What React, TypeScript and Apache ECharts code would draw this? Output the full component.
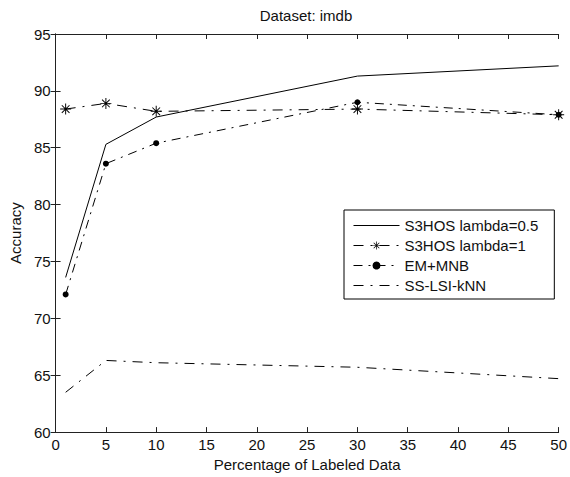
import React, { useEffect, useRef } from "react";
import * as echarts from "echarts";

const xValues = [1, 5, 10, 30, 50];
const s3hosLambda05 = [73.6, 85.3, 87.7, 91.3, 92.2];
const s3hosLambda1 = [88.4, 88.9, 88.2, 88.4, 87.9];
const emMnb = [72.1, 83.6, 85.4, 89.0, 87.9];
const ssLsiKnn = [63.5, 66.3, 66.1, 65.7, 64.7];
const seriesNames = ["S3HOS lambda=0.5", "S3HOS lambda=1", "EM+MNB", "SS-LSI-kNN"];

const FONT = "'Liberation Sans', Arial, sans-serif";
const TXT = "#111";

const STAR =
  "path://M-0.7,-8 L0.7,-8 L0.7,8 L-0.7,8 Z M-8,-0.7 L8,-0.7 L8,0.7 L-8,0.7 Z " +
  "M-5.1,-6.1 L6.1,5.1 L5.1,6.1 L-6.1,-5.1 Z M-6.1,5.1 L5.1,-6.1 L6.1,-5.1 L-5.1,6.1 Z";

const pairs = (ys: number[]) => xValues.map((x, i) => [x, ys[i]]);

export default function App() {
  const ref = useRef<HTMLDivElement>(null);
  useEffect(() => {
    if (!ref.current) return;
    const chart = echarts.init(ref.current, undefined, { renderer: "svg" });
    const axisLine = { show: true, lineStyle: { color: "#222", width: 1 } };
    const tick = { show: true, inside: true, length: 5, lineStyle: { color: "#222", width: 1 } };
    const label = { color: TXT, fontSize: 15, fontFamily: FONT, margin: 5 };
    chart.setOption({
      animation: false,
      backgroundColor: "#fff",
      title: {
        text: "Dataset: imdb",
        left: 306,
        textAlign: "center",
        top: 8,
        padding: 0,
        textStyle: { fontSize: 15, fontWeight: "normal", color: TXT, fontFamily: FONT },
      },
      grid: { left: 54, top: 34, right: 7, bottom: 43, containLabel: false },
      legend: {
        orient: "vertical",
        left: 344,
        top: 210,
        data: [
          { name: seriesNames[0], itemStyle: { opacity: 0 } },
          { name: seriesNames[1] },
          { name: seriesNames[2] },
          { name: seriesNames[3], itemStyle: { opacity: 0 } },
        ],
        itemWidth: 46,
        itemHeight: 10,
        itemGap: 5,
        padding: [8, 16, 6, 9],
        borderColor: "#000",
        borderWidth: 1,
        backgroundColor: "#fff",
        lineStyle: { width: 1 },
        textStyle: { fontSize: 15, color: TXT, fontFamily: FONT },
      },
      xAxis: [
        {
          type: "value",
          min: 0,
          max: 50,
          interval: 5,
          name: "Percentage of Labeled Data",
          nameLocation: "middle",
          nameGap: 23,
          nameTextStyle: { fontSize: 15, color: TXT, fontFamily: FONT },
          axisLine,
          axisTick: tick,
          axisLabel: label,
          splitLine: { show: false },
        },
        {
          type: "value",
          position: "top",
          min: 0,
          max: 50,
          interval: 5,
          axisLine,
          axisTick: tick,
          axisLabel: { show: false },
          splitLine: { show: false },
        },
      ],
      yAxis: [
        {
          type: "value",
          min: 60,
          max: 95,
          interval: 5,
          name: "Accuracy",
          nameLocation: "middle",
          nameGap: 32,
          nameTextStyle: { fontSize: 15, color: TXT, fontFamily: FONT },
          axisLine,
          axisTick: tick,
          axisLabel: label,
          splitLine: { show: false },
        },
        {
          type: "value",
          position: "right",
          min: 60,
          max: 95,
          interval: 5,
          axisLine,
          axisTick: tick,
          axisLabel: { show: false },
          splitLine: { show: false },
        },
      ],
      series: [
        {
          name: seriesNames[0],
          type: "line",
          data: pairs(s3hosLambda05),
          symbol: "none",
          lineStyle: { color: "#000", width: 1, type: "solid" },
          itemStyle: { color: "#000" },
        },
        {
          name: seriesNames[1],
          type: "line",
          data: pairs(s3hosLambda1),
          symbol: STAR,
          symbolSize: 11,
          lineStyle: { color: "#000", width: 1, type: [10, 7, 2, 7] },
          itemStyle: { color: "#000" },
        },
        {
          name: seriesNames[2],
          type: "line",
          data: pairs(emMnb),
          symbol: "circle",
          symbolSize: 6,
          lineStyle: { color: "#000", width: 1, type: [9, 6, 2, 6] },
          itemStyle: { color: "#000" },
        },
        {
          name: seriesNames[3],
          type: "line",
          data: pairs(ssLsiKnn),
          symbol: "none",
          lineStyle: { color: "#000", width: 1, type: [10, 7, 2, 7] },
          itemStyle: { color: "#000" },
        },
      ],
    });
    return () => chart.dispose();
  }, []);
  return (
    <div
      ref={ref}
      style={{ position: "fixed", left: 0, top: 0, width: 570, height: 477, background: "#fff" }}
    />
  );
}
